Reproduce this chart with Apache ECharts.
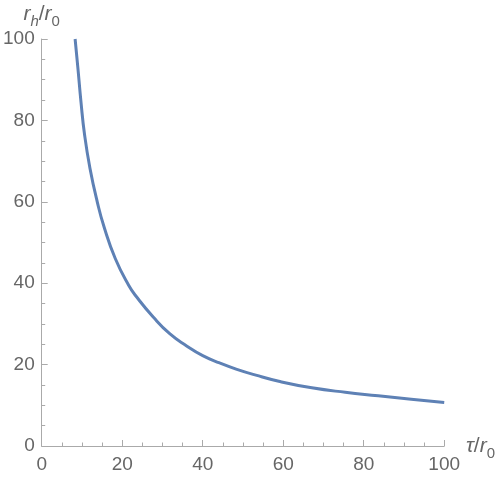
<!DOCTYPE html>
<html>
<head>
<meta charset="utf-8">
<script src="https://cdn.jsdelivr.net/npm/echarts@6/dist/echarts.min.js"></script>
<style>
  html, body { margin: 0; padding: 0; background: #fff; }
  #chart { width: 498px; height: 480px; }
</style>
</head>
<body>
<div id="chart"></div>
<script>
// values: tau/r0 against r_h/r0
var tauValues = [8.3, 9.0, 9.75, 10.66, 12.0, 13.8, 15.5, 18.3, 21.6, 23.6, 27.7, 31.8, 36.0, 40.0, 44.2, 48.3, 53.2, 58.9, 67.1, 75.4, 83.6, 91.8, 100];
var rhValues  = [100, 92.8, 84.6, 76.4, 68.2, 60.0, 53.8, 46, 39.5, 36.6, 31.7, 27.6, 24.6, 22.2, 20.4, 18.9, 17.4, 15.9, 14.3, 13.2, 12.35, 11.5, 10.7];
var xTicks = [0, 20, 40, 60, 80, 100];
var yTicks = [0, 20, 40, 60, 80, 100];

var points = tauValues.map(function (t, i) { return [t, rhValues[i]]; });

var axisGray = '#aaaaaa';
var textGray = '#666666';
var font = 'Liberation Sans';

var nameRich = {
  i: { fontFamily: font, fontStyle: 'italic', fontSize: 21, lineHeight: 21, color: textGray, verticalAlign: 'top' },
  n: { fontFamily: font, fontSize: 21, lineHeight: 21, color: textGray, verticalAlign: 'top' },
  si: { fontFamily: font, fontStyle: 'italic', fontSize: 15, lineHeight: 15, padding: [11, 0, 0, 0], color: textGray, verticalAlign: 'top' },
  s: { fontFamily: font, fontSize: 15, lineHeight: 15, padding: [11, 0, 0, 0], color: textGray, verticalAlign: 'top' }
};

function commonAxis(ticks) {
  return {
    type: 'value',
    min: ticks[0],
    max: ticks[ticks.length - 1],
    interval: ticks[1] - ticks[0],
    axisLine: { show: true, lineStyle: { color: axisGray, width: 1 } },
    axisTick: { show: true, inside: true, length: 6, lineStyle: { color: axisGray } },
    minorTick: { show: true, splitNumber: 4, length: 3.5, lineStyle: { color: axisGray } },
    splitLine: { show: false },
    axisLabel: { color: textGray, fontSize: 19, fontFamily: font }
  };
}

var xAxis = commonAxis(xTicks);
xAxis.axisLabel.margin = 9;
xAxis.name = '{i|τ}{n|/}{i|r}{s|0}';
xAxis.nameLocation = 'end';
xAxis.nameGap = 17;
xAxis.nameTextStyle = { rich: nameRich };

var yAxis = commonAxis(yTicks);
yAxis.axisLabel.margin = 7;
yAxis.name = '{i|r}{si|h}{n|/}{i|r}{s|0}';
yAxis.nameLocation = 'end';
yAxis.nameGap = 13;
yAxis.nameTextStyle = { rich: nameRich, align: 'center' };

var myChart = echarts.init(document.getElementById('chart'), null, { renderer: 'canvas' });
myChart.setOption({
  backgroundColor: '#fff',
  animation: false,
  grid: { left: 41, top: 39, right: 51, bottom: 34, containLabel: false },
  xAxis: xAxis,
  yAxis: yAxis,
  series: [{
    type: 'line',
    data: points,
    smooth: 0.5,
    showSymbol: false,
    clip: true,
    lineStyle: { color: '#5E81B5', width: 3 }
  }]
});
</script>
</body>
</html>
